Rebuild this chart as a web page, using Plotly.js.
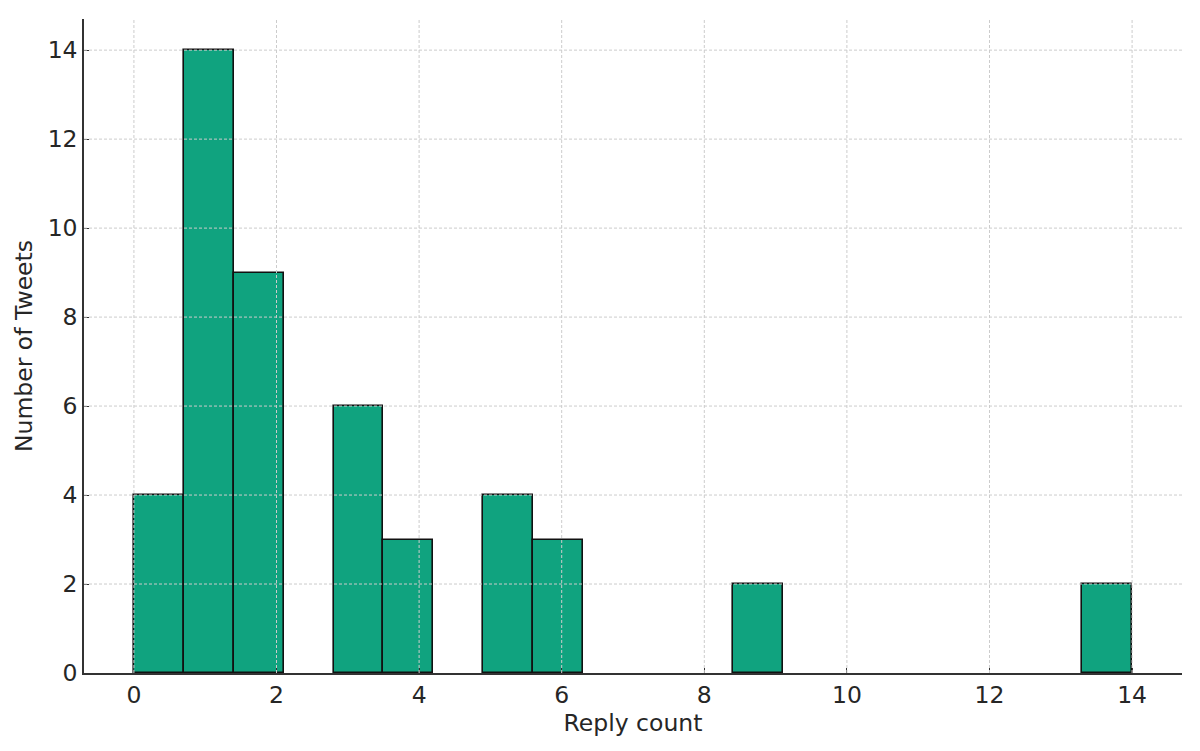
<!DOCTYPE html>
<html>
<head>
<meta charset="utf-8">
<script src="https://cdn.plot.ly/plotly-3.0.1.min.js"></script>
<style>
  html, body { margin: 0; padding: 0; background: #fff; }
  #reply_hist { width: 1200px; height: 751px; }
</style>
</head>
<body>
<div id="reply_hist"></div>
<script>
// histogram of reply counts, 20 bins between 0 and 14
var bin_start = 0
var bin_width = 0.7
var bin_counts = [4, 14, 9, 0, 6, 3, 0, 4, 3, 0, 0, 0, 2, 0, 0, 0, 0, 0, 0, 2]
var x_ticks = [0, 2, 4, 6, 8, 10, 12, 14]
var y_ticks = [0, 2, 4, 6, 8, 10, 12, 14]

var bin_centers = bin_counts.map(function (c, i) {
    return bin_start + bin_width * i + bin_width / 2
})
// empty bins would paint their edge over the x axis
var bar_heights = bin_counts.map(function (c) { return c > 0 ? c : null })

var data = [{
    type: 'bar',
    x: bin_centers,
    y: bar_heights,
    width: bin_width,
    marker: {
        color: '#10a37f',
        line: { color: '#111111', width: 1.6 }
    },
    hoverinfo: 'x+y'
}]

// matplotlib puts the grid above the bars, so draw it as shapes
var grid = { color: '#cccccc', width: 1, dash: '3px,2px' }
var shapes = []
x_ticks.forEach(function (v) {
    shapes.push({ type: 'line', layer: 'above', xref: 'x', yref: 'paper',
        x0: v, x1: v, y0: 0, y1: 1, line: grid })
})
y_ticks.slice(1).forEach(function (v) {
    shapes.push({ type: 'line', layer: 'above', xref: 'paper', yref: 'y',
        x0: 0, x1: 1, y0: v, y1: v, line: grid })
})

var font = { family: 'DejaVu Sans, sans-serif', size: 23.5, color: '#262626' }

var layout = {
    width: 1200,
    height: 751,
    margin: { l: 84, r: 18, t: 19, b: 78 },
    paper_bgcolor: '#ffffff',
    plot_bgcolor: '#ffffff',
    font: font,
    showlegend: false,
    bargap: 0,
    shapes: shapes,
    xaxis: {
        range: [-0.7, 14.7],
        tickvals: x_ticks,
        ticktext: x_ticks.map(String),
        ticks: 'inside',
        ticklen: 5,
        tickwidth: 1.2,
        tickcolor: '#333333',
        showgrid: false,
        zeroline: false,
        showline: true,
        linecolor: '#333333',
        linewidth: 1.5,
        layer: 'above traces',
        tickfont: font,
        title: { text: 'Reply count', font: font, standoff: 4 },
        automargin: false
    },
    yaxis: {
        range: [0, 14.7],
        tickvals: y_ticks,
        ticktext: y_ticks.map(String),
        ticks: 'inside',
        ticklen: 5,
        tickwidth: 1.2,
        tickcolor: '#333333',
        showgrid: false,
        zeroline: false,
        showline: true,
        linecolor: '#333333',
        linewidth: 1.5,
        layer: 'above traces',
        tickfont: font,
        title: { text: 'Number of Tweets', font: font, standoff: 8 },
        automargin: false
    }
}

Plotly.newPlot('reply_hist', data, layout, { displayModeBar: false, responsive: false })
</script>
</body>
</html>
